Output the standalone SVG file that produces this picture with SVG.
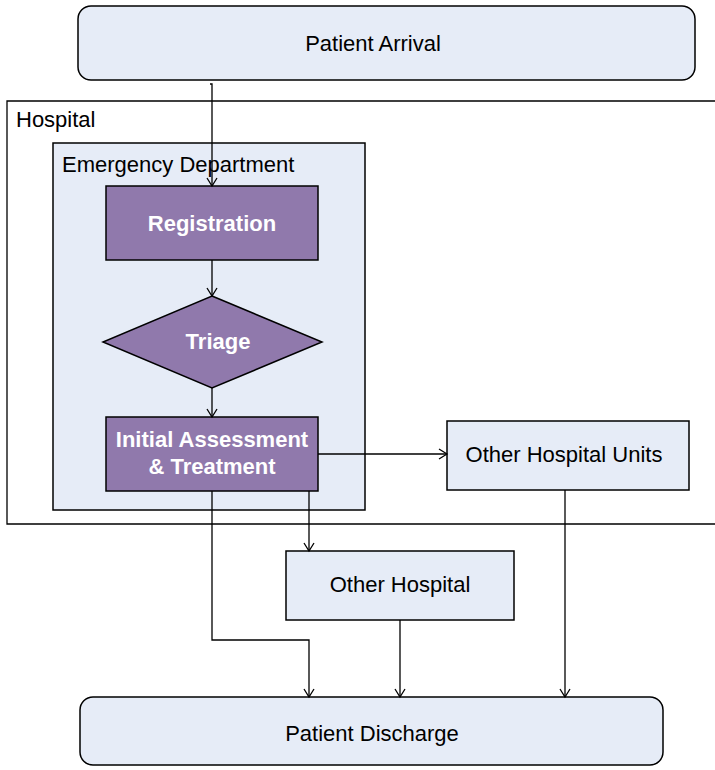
<svg xmlns="http://www.w3.org/2000/svg" width="715" height="770" viewBox="0 0 715 770">
  <style>
    .term { fill: #E6ECF7; stroke: #000; stroke-width: 1.5; }
    .box { fill: #E6ECF7; stroke: #000; stroke-width: 1.5; }
    .proc { fill: #9079AC; stroke: #000; stroke-width: 1.5; }
    .frame { fill: none; stroke: #000; stroke-width: 1.3; }
    .lbl { font-family: "Liberation Sans", Arial, sans-serif; font-size: 22px; fill: #000; }
    .plbl { font-family: "Liberation Sans", Arial, sans-serif; font-size: 22px; font-weight: bold; fill: #fff; }
    .wire { fill: none; stroke: #000; stroke-width: 1.3; }
  </style>
  <defs>
    <marker id="arrow" markerWidth="12" markerHeight="12" refX="10" refY="6" orient="auto" markerUnits="userSpaceOnUse">
      <path d="M2,1 L10,6 L2,11" fill="none" stroke="#000" stroke-width="1.3"/>
    </marker>
  </defs>

  <rect width="715" height="770" fill="#fff"/>

  <!-- Hospital container (runs off the right edge) -->
  <g id="hospital">
    <path class="frame" d="M716,101 H7 V524 H716"/>
    <text class="lbl" x="16" y="127">Hospital</text>
  </g>

  <!-- Emergency Department container -->
  <g id="emergency-department">
    <rect class="box" x="53" y="143" width="312" height="367"/>
    <text class="lbl" x="62" y="172">Emergency Department</text>
  </g>

  <g id="patient-arrival">
    <rect class="term" x="78" y="6" width="617" height="74" rx="13"/>
    <text class="lbl" x="373" y="51" text-anchor="middle">Patient Arrival</text>
  </g>

  <g id="registration">
    <rect class="proc" x="106" y="186" width="212" height="74"/>
    <text class="plbl" x="212" y="231" text-anchor="middle">Registration</text>
  </g>

  <g id="triage">
    <polygon class="proc" points="212,296 322,342 212,388 103,342"/>
    <text class="plbl" x="218" y="349" text-anchor="middle">Triage</text>
  </g>

  <g id="initial-assessment">
    <rect class="proc" x="106" y="417" width="212" height="74"/>
    <text class="plbl" x="212" y="447" text-anchor="middle">Initial Assessment</text>
    <text class="plbl" x="212" y="474" text-anchor="middle">&amp; Treatment</text>
  </g>

  <g id="other-hospital-units">
    <rect class="box" x="447" y="421" width="242" height="69"/>
    <text class="lbl" x="564" y="462" text-anchor="middle">Other Hospital Units</text>
  </g>

  <g id="other-hospital">
    <rect class="box" x="286" y="551" width="228" height="69"/>
    <text class="lbl" x="400" y="592" text-anchor="middle">Other Hospital</text>
  </g>

  <g id="patient-discharge">
    <rect class="term" x="80" y="697" width="583" height="68" rx="13"/>
    <text class="lbl" x="372" y="741" text-anchor="middle">Patient Discharge</text>
  </g>

  <g id="connectors">
    <path class="wire" d="M210,84 H212 V186" marker-end="url(#arrow)"/>
    <path class="wire" d="M212,260 V296" marker-end="url(#arrow)"/>
    <path class="wire" d="M212,388 V417" marker-end="url(#arrow)"/>
    <path class="wire" d="M318,454 H447" marker-end="url(#arrow)"/>
    <path class="wire" d="M309,491 V551" marker-end="url(#arrow)"/>
    <path class="wire" d="M212,491 V640 H309 V697" marker-end="url(#arrow)"/>
    <path class="wire" d="M400,620 V697" marker-end="url(#arrow)"/>
    <path class="wire" d="M565,490 V697" marker-end="url(#arrow)"/>
  </g>
</svg>
